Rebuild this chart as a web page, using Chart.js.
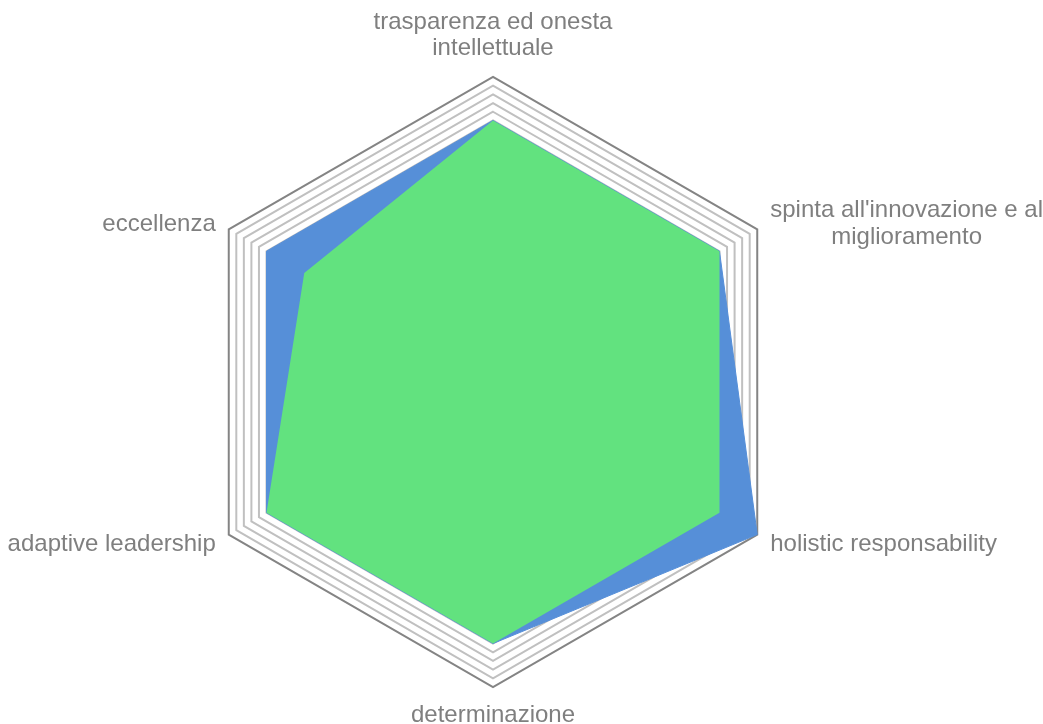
<!DOCTYPE html>
<html>
<head>
<meta charset="utf-8">
<script src="https://cdn.jsdelivr.net/npm/chart.js@4"></script>
<style>
  html, body { margin: 0; padding: 0; background: #fff; width: 1043px; height: 724px; overflow: hidden; position: relative; }
  /* slightly oversized box so Chart.js's conservative label fit gives the same radius as the original */
  #wrap { position: absolute; left: -23px; top: -4px; width: 1100px; height: 746px; }
</style>
</head>
<body>
<div id="wrap"><canvas id="chart"></canvas></div>
<script>
const labels = [
  ["trasparenza ed onesta", "intellettuale"],
  ["spinta all'innovazione e al", "miglioramento"],
  "holistic responsability",
  "determinazione",
  "adaptive leadership",
  "eccellenza",
];

const greenValues = [30, 30, 30, 30, 30, 25];
const blueValues = [30, 30, 35, 30, 30, 30];

const scaleMax = 35;
const labelFont = { family: "'Liberation Sans', Arial, sans-serif", size: 24, lineHeight: 1.1 };

// draw point labels centred line by line; side labels are centred vertically on their spoke
const centredLabels = {
  id: "centredLabels",
  afterDraw(chart) {
    const scale = chart.scales.r;
    const items = scale._pointLabelItems || [];
    const c = chart.ctx;
    const lh = labelFont.size * labelFont.lineHeight;
    c.save();
    c.font = `${labelFont.size}px ${labelFont.family}`;
    c.fillStyle = "#7f7f7f";
    c.textAlign = "center";
    c.textBaseline = "middle";
    items.forEach((item, i) => {
      const lines = [].concat(labels[i]);
      const h = lines.length * lh;
      const deg = Math.round((scale.getIndexAngle(i) * 180) / Math.PI) % 360;
      let top = item.top;
      if (deg !== 0 && deg !== 180) {
        const anchorY = deg < 90 || deg > 270 ? item.bottom : item.top;
        top = anchorY - h / 2 + 2;
      }
      const cx = (item.left + item.right) / 2;
      lines.forEach((line, k) => {
        c.fillText(line, cx, top + lh * (k + 0.5));
      });
    });
    c.restore();
  },
};

const ctx = document.getElementById("chart").getContext("2d");

new Chart(ctx, {
  type: "radar",
  data: {
    labels,
    datasets: [
      {
        label: "green",
        data: greenValues,
        backgroundColor: "#62e27f",
        borderWidth: 0,
        pointRadius: 0,
        fill: true,
      },
      {
        label: "blue",
        data: blueValues,
        backgroundColor: "#568fd8",
        borderColor: "#568fd8",
        borderWidth: 1,
        pointRadius: 0,
        fill: true,
      },
    ],
  },
  options: {
    responsive: true,
    maintainAspectRatio: false,
    animation: false,
    layout: { padding: 0 },
    plugins: {
      legend: { display: false },
      tooltip: { enabled: false },
    },
    scales: {
      r: {
        min: 0,
        max: scaleMax,
        ticks: { display: false, stepSize: 1 },
        angleLines: { display: false },
        grid: {
          lineWidth: 2,
          color: (c) => (c.tick && c.tick.value === scaleMax ? "#848484" : "#c0c0c0"),
        },
        pointLabels: {
          color: "rgba(0,0,0,0)",
          padding: 15,
          font: labelFont,
        },
      },
    },
  },
  plugins: [centredLabels],
});
</script>
</body>
</html>
